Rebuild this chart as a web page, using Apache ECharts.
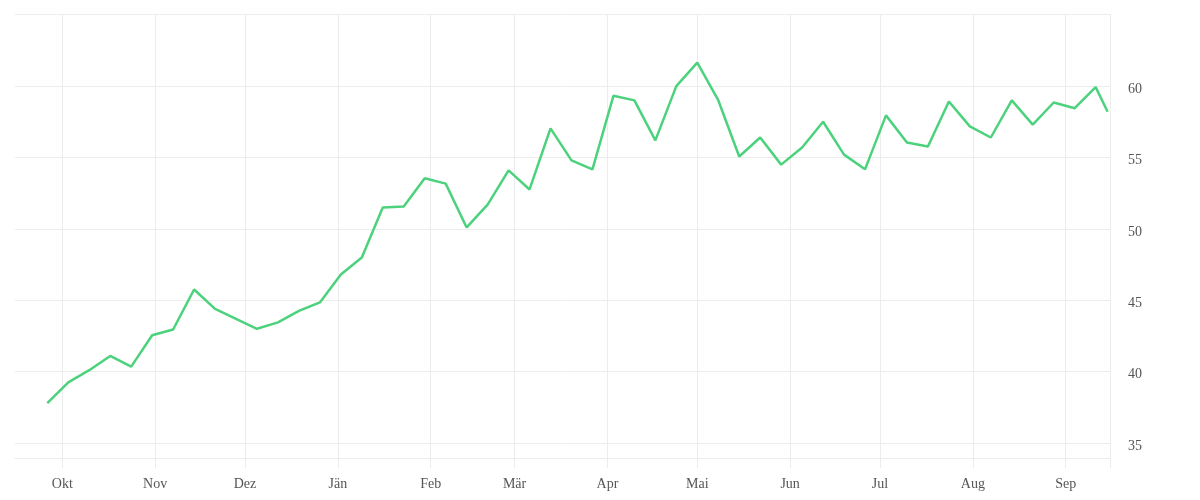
<!DOCTYPE html>
<html>
<head>
<meta charset="utf-8">
<script src="https://cdn.jsdelivr.net/npm/echarts@6/dist/echarts.min.js"></script>
<style>
html,body{margin:0;padding:0;background:#fff;}
#chart{width:1200px;height:500px;}
</style>
</head>
<body>
<div id="chart"></div>
<script>
const dates = [
  '2022-09-26','2022-10-03','2022-10-10','2022-10-17','2022-10-24','2022-10-31',
  '2022-11-07','2022-11-14','2022-11-21','2022-11-28','2022-12-05','2022-12-12',
  '2022-12-19','2022-12-26','2023-01-02','2023-01-09','2023-01-16','2023-01-23',
  '2023-01-30','2023-02-06','2023-02-13','2023-02-20','2023-02-27','2023-03-06',
  '2023-03-13','2023-03-20','2023-03-27','2023-04-03','2023-04-10','2023-04-17',
  '2023-04-24','2023-05-01','2023-05-08','2023-05-15','2023-05-22','2023-05-29',
  '2023-06-05','2023-06-12','2023-06-19','2023-06-26','2023-07-03','2023-07-10',
  '2023-07-17','2023-07-24','2023-07-31','2023-08-07','2023-08-14','2023-08-21',
  '2023-08-28','2023-09-04','2023-09-11','2023-09-15'
];
const values = [
  37.8, 39.25, 40.1, 41.1, 40.35, 42.55,
  42.95, 45.75, 44.4, 43.7, 43.0, 43.45,
  44.25, 44.85, 46.8, 48.0, 51.5, 51.57,
  53.54, 53.17, 50.1, 51.7, 54.1, 52.76,
  57.04, 54.8, 54.17, 59.32, 59.0, 56.2,
  60.0, 61.64, 59.01, 55.07, 56.4, 54.5,
  55.7, 57.5, 55.2, 54.17, 57.95, 56.05,
  55.77, 58.92, 57.18, 56.4, 59.0, 57.3,
  58.85, 58.45, 59.93, 58.2
];
const monthTicks = [
  '2022-10-01','2022-11-01','2022-12-01','2023-01-01','2023-02-01','2023-03-01',
  '2023-04-01','2023-05-01','2023-06-01','2023-07-01','2023-08-01','2023-09-01'
];
const monthLabels = ['Okt','Nov','Dez','Jän','Feb','Mär','Apr','Mai','Jun','Jul','Aug','Sep'];
const yTickLabels = [35, 40, 45, 50, 55, 60];
const xStart = '2022-09-15 05';
const xEnd = '2023-09-15 19';
const yMin = 33.95;
const yMax = 65.05;

function parseDate(s) {
  const parts = s.split(' ');
  const p = parts[0].split('-').map(Number);
  const h = parts.length > 1 ? Number(parts[1]) : 0;
  return Date.UTC(p[0], p[1] - 1, p[2], h);
}
const monthTs = monthTicks.map(parseDate);
const xMin = parseDate(xStart);
const xMax = parseDate(xEnd);
const seriesData = dates.map((d, i) => [parseDate(d), values[i]]);

const gridColor = '#ececec';
const textStyle = { fontFamily: '"Liberation Serif", serif', fontSize: 14, color: '#555' };

const chart = echarts.init(document.getElementById('chart'), null, { renderer: 'canvas' });
chart.setOption({
  animation: false,
  backgroundColor: '#ffffff',
  grid: { left: 15, right: 90, top: 14, bottom: 42, containLabel: false },
  xAxis: {
    type: 'value',
    min: xMin,
    max: xMax,
    axisLine: { show: true, lineStyle: { color: gridColor, width: 1 } },
    axisTick: {
      show: true, length: 10, lineStyle: { color: gridColor, width: 1 },
      customValues: monthTs.concat([xMax])
    },
    splitLine: { show: true, lineStyle: { color: gridColor, width: 1 } },
    axisLabel: {
      ...textStyle,
      margin: 19,
      customValues: monthTs,
      formatter: function (val) {
        const idx = monthTs.indexOf(val);
        return idx >= 0 ? monthLabels[idx] : '';
      }
    }
  },
  yAxis: {
    type: 'value',
    position: 'right',
    min: yMin,
    max: yMax,
    axisLine: { show: false },
    axisTick: { show: false, customValues: [yMin].concat(yTickLabels, [yMax]) },
    splitLine: { show: true, lineStyle: { color: gridColor, width: 1 } },
    axisLabel: {
      ...textStyle,
      margin: 18,
      customValues: yTickLabels,
      formatter: function (v) { return '{a|' + v + '}'; },
      rich: {
        a: { ...textStyle, padding: [6, 0, 0, 0] }
      }
    }
  },
  series: [{
    type: 'line',
    data: seriesData,
    showSymbol: false,
    symbol: 'none',
    lineStyle: { color: '#4cd27d', width: 2.5 },
    itemStyle: { color: '#4cd27d' }
  }]
});
</script>
</body>
</html>
